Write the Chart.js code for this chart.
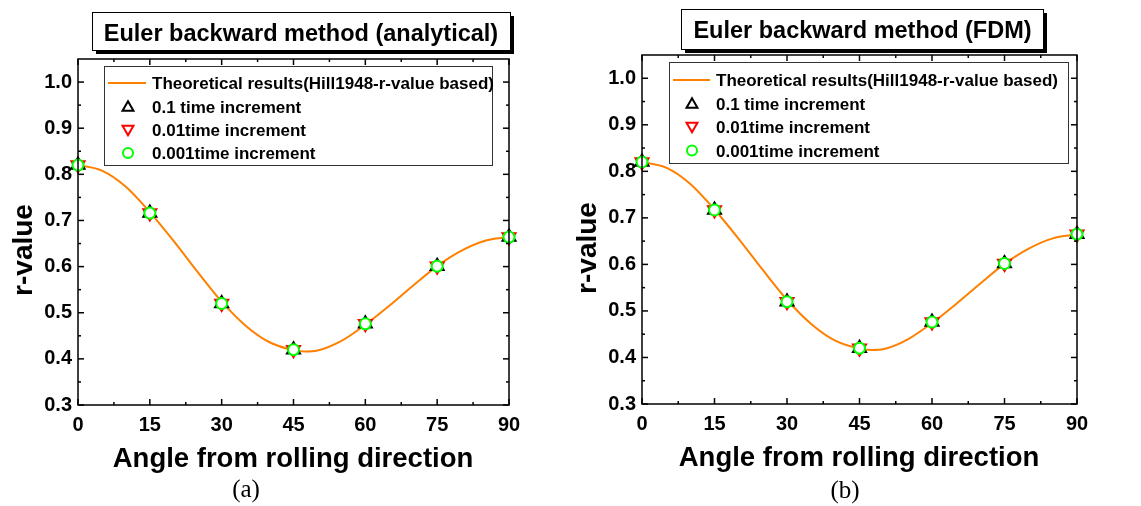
<!DOCTYPE html>
<html>
<head>
<meta charset="utf-8">
<script src="https://cdn.jsdelivr.net/npm/chart.js@4.4.0/dist/chart.umd.min.js"></script>
<style>
  html, body { margin: 0; padding: 0; background: #fff; }
  #wrap { position: relative; width: 1141px; height: 506px; overflow: hidden; }
  canvas { position: absolute; top: 0; }
</style>
</head>
<body>
<div id="wrap">
  <canvas id="chartA" width="570" height="506" style="left:0px"></canvas>
  <canvas id="chartB" width="571" height="506" style="left:570px"></canvas>
</div>
<script>
// angles where the simulations were run
const angles = [0, 15, 30, 45, 60, 75, 90];

// (a) analytical
const anaInc01 = [0.820, 0.716, 0.520, 0.420, 0.476, 0.601, 0.664];
const anaInc001 = [0.820, 0.716, 0.520, 0.420, 0.476, 0.601, 0.664];
const anaInc0001 = [0.820, 0.716, 0.520, 0.420, 0.476, 0.601, 0.664];

// (b) FDM
const fdmInc01 = [0.820, 0.717, 0.520, 0.420, 0.476, 0.602, 0.665];
const fdmInc001 = [0.820, 0.717, 0.520, 0.420, 0.476, 0.602, 0.665];
const fdmInc0001 = [0.820, 0.717, 0.520, 0.420, 0.476, 0.602, 0.665];

// theoretical curve
const curveAngles = [0, 5, 10, 15, 20, 25, 30, 35, 40, 45, 47.5, 50, 55, 60, 65, 70, 75, 80, 85, 90];
const curveR = [0.820, 0.808, 0.773, 0.718, 0.655, 0.588, 0.524, 0.472, 0.436, 0.419, 0.416, 0.418, 0.439, 0.474, 0.515, 0.559, 0.601, 0.634, 0.656, 0.664];

const xTicks = [0, 15, 30, 45, 60, 75, 90];
const xMinorTicks = [7.5, 22.5, 37.5, 52.5, 67.5, 82.5];
const yTicks = [0.3, 0.4, 0.5, 0.6, 0.7, 0.8, 0.9, 1.0];
const yMinorTicks = [0.35, 0.45, 0.55, 0.65, 0.75, 0.85, 0.95];

const legendLabels = [
  'Theoretical results(Hill1948-r-value based)',
  '0.1 time increment',
  '0.01time increment',
  '0.001time increment'
];

const SANS = '"Liberation Sans", Arial, Helvetica, sans-serif';
const SERIF = '"Liberation Serif", "Times New Roman", serif';
const ORANGE = '#ff8000';

const panels = [
  {
    canvas: 'chartA', title: 'Euler backward method (analytical)', caption: '(a)',
    series: [anaInc01, anaInc001, anaInc0001],
    yAxisWidth: 78, xAxisHeight: 101, pad: { left: 0, top: 59, right: 61, bottom: 0 },
    titleBox: { x: 92, y: 12, w: 418, h: 38, tx: 301, ty: 40.5 },
    legend: { x: 104, y: 66, w: 388, h: 99, lx1: 108, lx2: 146, sx: 128, tx: 152, rows: [83, 106.5, 130, 153] },
    xTitle: { x: 293, y: 466.5 }, yTitle: { x: 32, y: 250 }, cap: { x: 246, y: 497 }
  },
  {
    canvas: 'chartB', title: 'Euler backward method (FDM)', caption: '(b)',
    series: [fdmInc01, fdmInc001, fdmInc0001],
    yAxisWidth: 72, xAxisHeight: 102, pad: { left: 0, top: 55, right: 64, bottom: 0 },
    titleBox: { x: 111, y: 9, w: 362, h: 40, tx: 292.5, ty: 37.5 },
    legend: { x: 99, y: 62, w: 399, h: 101, lx1: 103, lx2: 140, sx: 122, tx: 146, rows: [80, 103.5, 127, 150.5] },
    xTitle: { x: 289, y: 466 }, yTitle: { x: 26, y: 248 }, cap: { x: 275, y: 498 }
  }
];

function tri(ctx, x, y, r, down) {
  const s = down ? -1 : 1;
  ctx.beginPath();
  ctx.moveTo(x, y - s * r);
  ctx.lineTo(x + r * 0.866, y + s * r * 0.5);
  ctx.lineTo(x - r * 0.866, y + s * r * 0.5);
  ctx.closePath();
  ctx.stroke();
}

function makeDecor(p) {
  return {
    id: 'decor',
    afterDraw(chart) {
      const ctx = chart.ctx, a = chart.chartArea;
      const xs = chart.scales.x, ys = chart.scales.y;
      ctx.save();

      // frame + inward ticks on all four sides
      ctx.strokeStyle = '#000';
      ctx.lineWidth = 1.5;
      ctx.strokeRect(a.left, a.top, a.right - a.left, a.bottom - a.top);
      const line = (x1, y1, x2, y2) => { ctx.beginPath(); ctx.moveTo(x1, y1); ctx.lineTo(x2, y2); ctx.stroke(); };
      xTicks.concat(xMinorTicks).forEach(v => {
        const len = xTicks.includes(v) ? 6 : 3;
        const px = xs.getPixelForValue(v);
        line(px, a.bottom, px, a.bottom - len);
        line(px, a.top, px, a.top + len);
      });
      yTicks.concat(yMinorTicks).forEach(v => {
        const len = yTicks.includes(v) ? 6 : 3;
        const py = ys.getPixelForValue(v);
        line(a.left, py, a.left + len, py);
        line(a.right, py, a.right - len, py);
      });

      // title box with drop shadow
      const t = p.titleBox;
      ctx.fillStyle = '#000';
      ctx.fillRect(t.x + 4, t.y + 4, t.w, t.h);
      ctx.fillStyle = '#fff';
      ctx.fillRect(t.x, t.y, t.w, t.h);
      ctx.lineWidth = 1;
      ctx.strokeRect(t.x + 0.5, t.y + 0.5, t.w, t.h);
      ctx.fillStyle = '#000';
      ctx.font = 'bold 23.5px ' + SANS;
      ctx.textAlign = 'center';
      ctx.textBaseline = 'alphabetic';
      ctx.fillText(p.title, t.tx, t.ty);

      // legend
      const L = p.legend;
      ctx.fillStyle = '#fff';
      ctx.fillRect(L.x, L.y, L.w, L.h);
      ctx.strokeStyle = '#333';
      ctx.lineWidth = 1;
      ctx.strokeRect(L.x + 0.5, L.y + 0.5, L.w, L.h);
      ctx.font = 'bold 17px ' + SANS;
      ctx.textAlign = 'left';
      legendLabels.forEach((lab, i) => {
        const cy = L.rows[i];
        ctx.fillStyle = '#000';
        ctx.fillText(lab, L.tx, cy + 6);
        ctx.lineWidth = 2;
        if (i === 0) {
          ctx.strokeStyle = ORANGE;
          line(L.lx1, cy, L.lx2, cy);
        } else if (i === 1) {
          ctx.strokeStyle = '#000';
          tri(ctx, L.sx, cy + 1, 6.3, false);
        } else if (i === 2) {
          ctx.strokeStyle = '#ff0000';
          tri(ctx, L.sx, cy - 1, 6.3, true);
        } else {
          ctx.strokeStyle = '#00ff00';
          ctx.beginPath();
          ctx.arc(L.sx, cy, 5, 0, Math.PI * 2);
          ctx.stroke();
        }
      });

      // axis titles and caption
      ctx.fillStyle = '#000';
      ctx.font = 'bold 27.5px ' + SANS;
      ctx.textAlign = 'center';
      ctx.fillText('Angle from rolling direction', p.xTitle.x, p.xTitle.y);
      ctx.save();
      ctx.translate(p.yTitle.x, p.yTitle.y);
      ctx.rotate(-Math.PI / 2);
      ctx.font = 'bold 28px ' + SANS;
      ctx.fillText('r-value', 0, 0);
      ctx.restore();
      ctx.font = '25px ' + SERIF;
      ctx.fillText(p.caption, p.cap.x, p.cap.y);

      ctx.restore();
    }
  };
}

panels.forEach(p => {
  const pts = ys => angles.map((x, i) => ({ x: x, y: ys[i] }));
  new Chart(document.getElementById(p.canvas), {
    type: 'scatter',
    data: {
      datasets: [
        {
          label: legendLabels[0],
          data: curveAngles.map((x, i) => ({ x: x, y: curveR[i] })),
          showLine: true, borderColor: ORANGE, borderWidth: 2,
          pointRadius: 0, cubicInterpolationMode: 'monotone', order: 4, clip: false
        },
        {
          label: legendLabels[1], data: pts(p.series[0]),
          pointStyle: 'triangle', pointRadius: 7.5, borderColor: '#000', backgroundColor: 'rgba(0,0,0,0)',
          borderWidth: 2, order: 3, clip: false
        },
        {
          label: legendLabels[2], data: pts(p.series[1]),
          pointStyle: 'triangle', rotation: 180, pointRadius: 7.5, borderColor: '#ff0000', backgroundColor: 'rgba(0,0,0,0)',
          borderWidth: 2, order: 2, clip: false
        },
        {
          label: legendLabels[3], data: pts(p.series[2]),
          pointStyle: 'circle', pointRadius: 5.5, borderColor: '#00ff00', backgroundColor: '#fff',
          borderWidth: 2, order: 1, clip: false
        }
      ]
    },
    options: {
      responsive: false,
      animation: false,
      devicePixelRatio: 1,
      layout: { padding: p.pad },
      plugins: { legend: { display: false }, tooltip: { enabled: false } },
      scales: {
        x: {
          type: 'linear', min: 0, max: 90,
          afterBuildTicks: s => { s.ticks = xTicks.map(v => ({ value: v })); },
          afterFit: s => { s.height = p.xAxisHeight; },
          grid: { display: false, drawTicks: false },
          border: { display: false },
          ticks: { color: '#000', padding: 8, maxRotation: 0, font: { family: SANS, size: 20, weight: 'bold' } }
        },
        y: {
          type: 'linear', min: 0.3, max: 1.05,
          afterBuildTicks: s => { s.ticks = yTicks.map(v => ({ value: v })); },
          afterFit: s => { s.width = p.yAxisWidth; },
          grid: { display: false, drawTicks: false },
          border: { display: false },
          ticks: { color: '#000', padding: 6, callback: v => Number(v).toFixed(1), font: { family: SANS, size: 20, weight: 'bold' } }
        }
      }
    },
    plugins: [makeDecor(p)]
  });
});
</script>
</body>
</html>
